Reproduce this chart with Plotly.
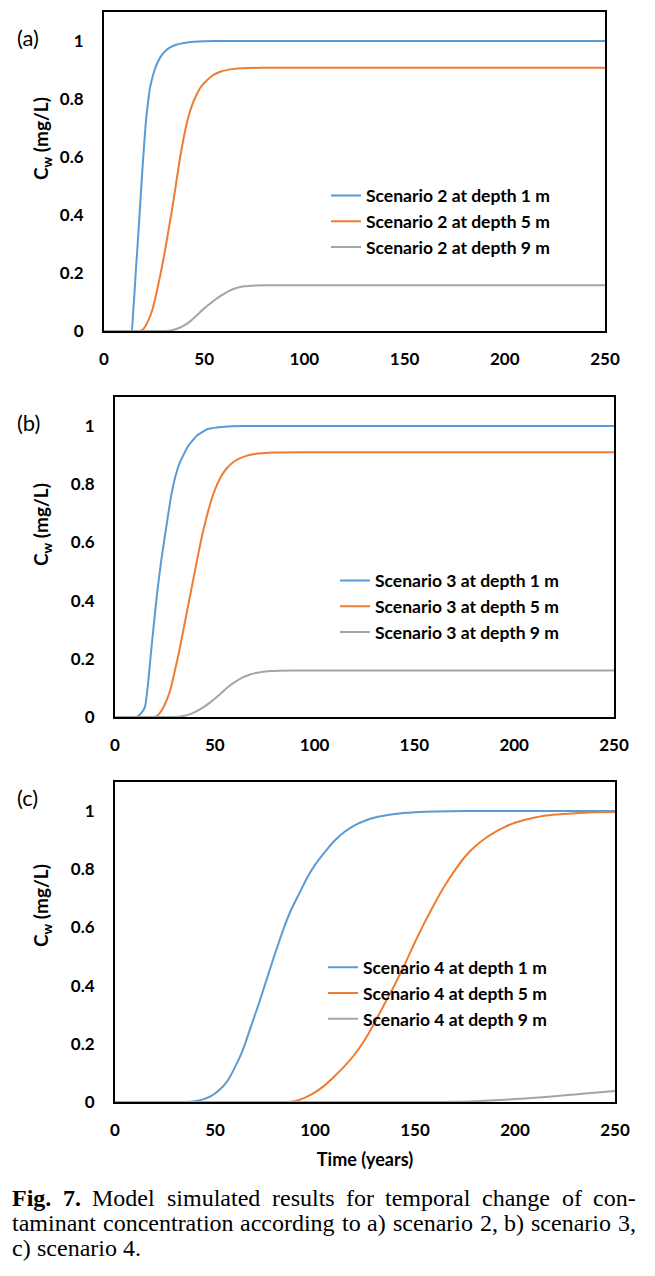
import plotly.graph_objects as go

W, H = 655, 1276

# ---------------- data ----------------
x_ticks = [0, 50, 100, 150, 200, 250]
y_tickvals = [0, 0.2, 0.4, 0.6, 0.8, 1.0]
y_ticktext = ["0", "0.2", "0.4", "0.6", "0.8", "1"]

# Panel (a) scenario 2
a1_t = [0, 12, 13.8, 14.4, 15.2, 16, 17, 18, 19, 20, 21, 22, 23, 24, 25, 27, 29, 31, 33, 36, 40, 45, 50, 60, 250]
a1_c = [0, 0, 0, 0.05, 0.13, 0.22, 0.32, 0.43, 0.54, 0.64, 0.73, 0.79, 0.84, 0.87, 0.895, 0.93, 0.953, 0.968, 0.978, 0.987, 0.993, 0.997, 0.999, 1.0, 1.0]
a5_t = [0, 16, 18, 20, 22, 24, 26, 28, 30, 32, 34, 36, 38, 40, 42, 44, 46, 48, 50, 54, 58, 64, 72, 85, 250]
a5_c = [0, 0, 0, 0.01, 0.035, 0.07, 0.125, 0.19, 0.26, 0.34, 0.42, 0.51, 0.6, 0.675, 0.735, 0.78, 0.812, 0.838, 0.855, 0.88, 0.894, 0.903, 0.907, 0.908, 0.908]
a9_t = [0, 27, 30, 34, 38, 42, 46, 50, 54, 58, 62, 66, 70, 76, 85, 250]
a9_c = [0, 0, 0, 0.003, 0.012, 0.028, 0.052, 0.078, 0.1, 0.12, 0.137, 0.148, 0.154, 0.157, 0.158, 0.158]

# Panel (b) scenario 3
b1_t = [0, 9, 10.8, 13, 15, 16.5, 18, 19.5, 21, 23, 25.5, 28, 30, 32.5, 36.5, 41, 46.5, 55, 65, 250]
b1_c = [0, 0, 0, 0.012, 0.035, 0.11, 0.22, 0.32, 0.42, 0.53, 0.645, 0.755, 0.82, 0.875, 0.93, 0.967, 0.99, 0.998, 1.0, 1.0]
b5_t = [0, 18, 20, 22, 24, 26, 28, 30, 32, 34, 36, 38, 40, 42, 44, 46, 48, 50, 53, 56, 60, 65, 70, 80, 95, 250]
b5_c = [0, 0, 0, 0.01, 0.03, 0.06, 0.1, 0.16, 0.22, 0.29, 0.36, 0.43, 0.5, 0.57, 0.635, 0.69, 0.74, 0.78, 0.825, 0.855, 0.88, 0.896, 0.904, 0.909, 0.91, 0.91]
b9_t = [0, 27, 30, 35, 40, 44, 48, 52, 56, 60, 64, 68, 72, 78, 90, 250]
b9_c = [0, 0, 0, 0.004, 0.017, 0.032, 0.052, 0.075, 0.1, 0.12, 0.136, 0.147, 0.153, 0.158, 0.16, 0.16]

# Panel (c) scenario 4
c1_t = [0, 32, 36, 40, 44, 48, 52, 56, 60, 64, 68, 72, 76, 80, 84, 88, 92, 96, 100, 105, 110, 115, 120, 125, 130, 140, 150, 160, 175, 250]
c1_c = [0, 0, 0, 0.003, 0.009, 0.02, 0.04, 0.07, 0.12, 0.18, 0.26, 0.34, 0.425, 0.51, 0.59, 0.66, 0.715, 0.77, 0.815, 0.86, 0.9, 0.93, 0.952, 0.967, 0.978, 0.99, 0.996, 0.999, 1.0, 1.0]
c5_t = [0, 80, 85, 90, 95, 100, 105, 110, 115, 120, 125, 130, 135, 140, 145, 150, 155, 160, 165, 170, 175, 180, 185, 190, 195, 200, 210, 220, 230, 240, 250]
c5_c = [0, 0, 0, 0.003, 0.015, 0.033, 0.058, 0.09, 0.125, 0.165, 0.215, 0.275, 0.34, 0.405, 0.475, 0.55, 0.62, 0.685, 0.745, 0.797, 0.843, 0.878, 0.906, 0.928, 0.946, 0.96, 0.978, 0.988, 0.993, 0.996, 0.997]
c9_t = [0, 160, 165, 175, 185, 195, 205, 215, 225, 235, 250]
c9_c = [0, 0, 0, 0.001, 0.004, 0.008, 0.012, 0.017, 0.023, 0.029, 0.038]

panels = [
    ("a", 2, [(a1_t, a1_c), (a5_t, a5_c), (a9_t, a9_c)]),
    ("b", 3, [(b1_t, b1_c), (b5_t, b5_c), (b9_t, b9_c)]),
    ("c", 4, [(c1_t, c1_c), (c5_t, c5_c), (c9_t, c9_c)]),
]
depths = [1, 5, 9]
colors = ["#5B9BD5", "#ED7D31", "#A5A5A5"]

# ---------------- layout geometry (pixels) ----------------
boxes = [  # left, right, top, bottom
    (104, 605, 12, 331),
    (115, 614, 397, 717),
    (115, 615, 782, 1102),
]
legend_text_x = [371, 380, 368]
legend_mid_y = [221.7, 606.7, 993.3]
ytitle_y = [139, 525, 906]
plabel_y = [37, 422, 797]

FONT = "Lato"
fig = go.Figure()

for i, (lab, scen, series) in enumerate(panels):
    n = "" if i == 0 else str(i + 1)
    lg = "legend" if i == 0 else "legend" + str(i + 1)
    for (t, c), d, col in zip(series, depths, colors):
        fig.add_trace(go.Scatter(
            x=t, y=c, mode="lines",
            line=dict(color=col, width=2, shape="spline", smoothing=0.35),
            name=f"Scenario {scen} at depth {d} m",
            xaxis="x" + n, yaxis="y" + n, legend=lg,
        ))
    l, r, tp, bt = boxes[i]
    xd = [l / W, r / W]
    yd = [1 - bt / H, 1 - tp / H]
    fig.layout["xaxis" + n] = dict(
        domain=xd, range=[0, 250], tickvals=x_ticks, showgrid=False, zeroline=False,
        showline=True, mirror=True, linecolor="black", linewidth=2, ticks="",
        ticklabelstandoff=12, anchor="y" + n, automargin=False,
        tickfont=dict(family=FONT, size=17, color="black", weight="bold"),
    )
    fig.layout["yaxis" + n] = dict(
        domain=yd, range=[0, 1.1], tickvals=y_tickvals, ticktext=y_ticktext,
        showgrid=False, zeroline=False, showline=True, mirror=True, automargin=False,
        linecolor="black", linewidth=2, ticks="", ticklabelstandoff=15, anchor="x" + n,
        tickfont=dict(family=FONT, size=17, color="black", weight="bold"),
    )
    fig.layout[lg] = dict(
        x=(legend_text_x[i] - 45) / W, xanchor="left",
        y=1 - legend_mid_y[i] / H, yanchor="middle",
        bgcolor="rgba(0,0,0,0)", itemwidth=30, tracegroupgap=0,
        font=dict(family=FONT, size=17.5, color="black", weight="bold"),
    )
    fig.add_annotation(
        text="C<sub>w</sub> (mg/L)", textangle=-90, showarrow=False,
        xref="paper", yref="paper", x=42 / W, y=1 - ytitle_y[i] / H,
        xanchor="center", yanchor="middle",
        font=dict(family=FONT, size=19, color="black", weight="bold"),
    )
    fig.add_annotation(
        text=f"({lab})", showarrow=False, xref="paper", yref="paper",
        x=15 / W, y=1 - plabel_y[i] / H, xanchor="left", yanchor="middle",
        font=dict(family=FONT, size=22, color="black"),
    )

fig.layout.xaxis3.title = dict(text="Time (years)", standoff=14,
                               font=dict(family=FONT, size=18, color="black", weight="bold"))

# ---------------- caption (justified like the source) ----------------
SERIF = "Liberation Serif"
FS = 24
reg = {' ': 250, 'M': 889, 'o': 500, 'd': 500, 'e': 444, 'l': 278, 's': 389, 'i': 278,
       'm': 778, 'u': 500, 'a': 444, 't': 278, 'r': 333, 'f': 333, 'p': 500, 'c': 444,
       'h': 500, 'n': 500, 'g': 500, '-': 333, ')': 333, '2': 500, '3': 500, '4': 500,
       ',': 250, 'b': 500, '.': 250}
bold = {'F': 611, 'i': 278, 'g': 500, '.': 250, '7': 500}

def wwidth(word, tbl):
    return sum(tbl[ch] for ch in word) * FS / 1000.0

cap_lines = [
    ([("Fig.", True), ("7.", True), ("Model", False), ("simulated", False), ("results", False),
      ("for", False), ("temporal", False), ("change", False), ("of", False), ("con-", False)], True),
    ([(w, False) for w in "taminant concentration according to a) scenario 2, b) scenario 3,".split()], True),
    ([("c)", False), ("scenario", False), ("4.", False)], False),
]
cap_y = [1197.5, 1222.5, 1248]
left, right = 10, 634
for (words, justify), yc in zip(cap_lines, cap_y):
    widths = [wwidth(w, bold if b else reg) for w, b in words]
    if justify:
        gap = (right - left - sum(widths)) / (len(words) - 1)
    else:
        gap = reg[' '] * FS / 1000.0
    x = left
    for (w, b), wd in zip(words, widths):
        fig.add_annotation(
            text=f"<b>{w}</b>" if b else w, showarrow=False, xref="paper", yref="paper",
            x=x / W, y=1 - yc / H, xanchor="left", yanchor="middle",
            font=dict(family=SERIF, size=FS, color="black"),
        )
        x += wd + gap

fig.update_layout(
    width=W, height=H, margin=dict(l=0, r=0, t=0, b=0, autoexpand=False),
    paper_bgcolor="white", plot_bgcolor="white", showlegend=True,
)
fig.write_html("out.html", config={"displayModeBar": False},
               post_script="document.body.style.margin='0px';document.body.style.overflow='hidden';")
